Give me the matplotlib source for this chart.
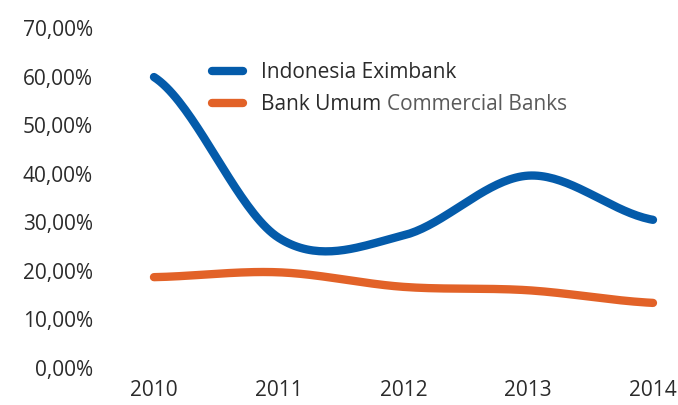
import numpy as np
import matplotlib
matplotlib.use("Agg")
import matplotlib.pyplot as plt

plt.rcParams['font.family'] = ['Open Sans', 'DejaVu Sans']

# Data (percent)
years = [2010, 2011, 2012, 2013, 2014]
eximbank = [59.9, 26.8, 27.3, 39.6, 30.5]
commercial = [18.7, 19.7, 16.7, 16.0, 13.4]
y_ticks = [0, 10, 20, 30, 40, 50, 60, 70]
y_tick_labels = ["0,00%", "10,00%", "20,00%", "30,00%", "40,00%", "50,00%", "60,00%", "70,00%"]

blue = "#045BAA"
orange = "#E26228"
text_col = "#2b2b2b"


def smooth(x, y, n=40):
    # Catmull-Rom style smoothing through the points (like Excel's smoothed line)
    x = np.asarray(x, float)
    y = np.asarray(y, float)
    m = np.zeros_like(y)
    m[1:-1] = (y[2:] - y[:-2]) / 2
    m[0] = (y[1] - y[0]) / 2
    m[-1] = (y[-1] - y[-2]) / 2
    xs, ys = [], []
    for i in range(len(x) - 1):
        t = np.linspace(0, 1, n, endpoint=(i == len(x) - 2))
        h00 = 2 * t**3 - 3 * t**2 + 1
        h10 = t**3 - 2 * t**2 + t
        h01 = -2 * t**3 + 3 * t**2
        h11 = t**3 - t**2
        xs.append(x[i] + t * (x[i + 1] - x[i]))
        ys.append(h00 * y[i] + h10 * m[i] + h01 * y[i + 1] + h11 * m[i + 1])
    return np.concatenate(xs), np.concatenate(ys)


fig = plt.figure(figsize=(6.78, 4.05), dpi=100)
ax = fig.add_axes([0.1535, 0.0914, 0.8372, 0.8395])

bx, by = smooth(years, eximbank)
ox, oy = smooth(years, commercial)
ax.plot(bx, by, color=blue, lw=6, solid_capstyle='round', label="Indonesia Eximbank")
ax.plot(ox, oy, color=orange, lw=6, solid_capstyle='round', label="Bank Umum")

ax.set_xlim(2009.6, 2014.15)
ax.set_ylim(0, 70)
ax.set_xticks(years)
ax.set_xticklabels([str(y) for y in years])
ax.set_yticks(y_ticks)
ax.set_yticklabels(y_tick_labels)
ax.tick_params(length=0, labelsize=15, colors=text_col)
ax.tick_params(axis='y', pad=8)
ax.tick_params(axis='x', pad=9)
for s in ax.spines.values():
    s.set_visible(False)

leg = ax.legend(loc='upper left', bbox_to_anchor=(0.157, 0.955), frameon=False,
                fontsize=15, handlelength=1.5, handletextpad=0.85,
                labelspacing=0.55)
for t in leg.get_texts():
    t.set_color(text_col)

ax.annotate("Commercial Banks", xy=(1, 0), xycoords=leg.get_texts()[1],
            xytext=(4, 0), textcoords='offset points', va='bottom', ha='left',
            fontsize=15, color="#5a5a5a", zorder=10)

fig.savefig("out.png", dpi=100)
